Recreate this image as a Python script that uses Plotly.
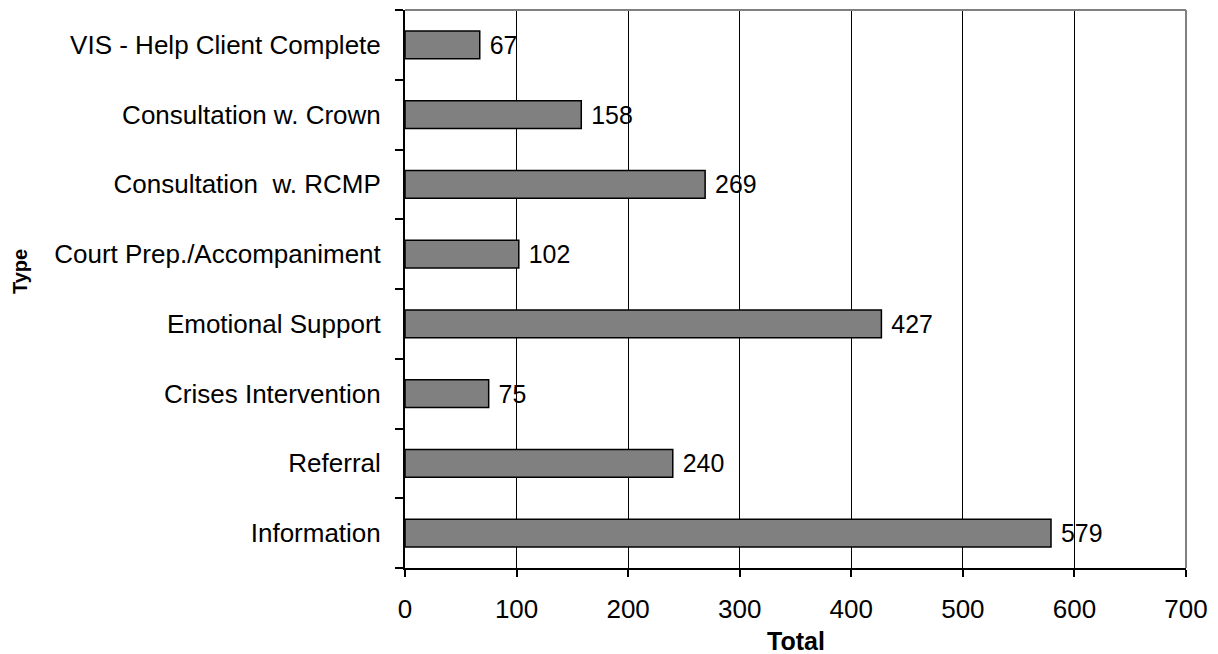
import plotly.graph_objects as go

categories = ["Information", "Referral", "Crises Intervention", "Emotional Support",
              "Court Prep./Accompaniment", "Consultation  w. RCMP",
              "Consultation w. Crown", "VIS - Help Client Complete"]
values = [579, 240, 75, 427, 102, 269, 158, 67]
x_ticks = [0, 100, 200, 300, 400, 500, 600, 700]

FONT = "Liberation Sans, Arial"

fig = go.Figure(go.Bar(
    y=categories, x=values, orientation="h",
    marker=dict(color="#808080", line=dict(color="black", width=1.5)),
    width=0.4,
    text=[str(v) for v in values], texttemplate=" %{text}", textposition="outside",
    textfont=dict(size=25, color="black", family=FONT),
    cliponaxis=False,
))

fig.update_layout(
    width=1218, height=654,
    margin=dict(l=405, r=30, t=10, b=86),
    plot_bgcolor="white", paper_bgcolor="white",
    font=dict(family=FONT, size=26, color="black"),
    showlegend=False,
    xaxis=dict(
        range=[0, 700], tickvals=x_ticks, ticktext=[str(t) for t in x_ticks],
        showgrid=True, gridcolor="black", gridwidth=1,
        showline=True, linecolor="black", linewidth=2,
        ticks="outside", ticklen=7, tickwidth=2, tickcolor="black",
        tickfont=dict(size=26), zeroline=False, ticklabelstandoff=10,
    ),
    yaxis=dict(
        categoryorder="array", categoryarray=categories,
        showline=True, linecolor="black", linewidth=2,
        ticks="outside", ticklen=8, tickwidth=2, tickcolor="black",
        tickson="boundaries", showgrid=False, ticklabelstandoff=17,
        tickfont=dict(size=26),
    ),
    annotations=[
        dict(text="<b>Type</b>", xref="paper", yref="paper",
             x=(19 - 405) / 783, y=(568 - 271) / 558,
             xanchor="center", yanchor="middle", textangle=-90,
             showarrow=False, font=dict(size=20, color="black")),
        dict(text="<b>Total</b>", xref="paper", yref="paper",
             x=0.5, y=(568 - 641) / 558,
             xanchor="center", yanchor="middle",
             showarrow=False, font=dict(size=25, color="black")),
    ],
    shapes=[
        dict(type="line", xref="paper", yref="paper", x0=0, x1=1, y0=1, y1=1,
             line=dict(color="#808080", width=2)),
        dict(type="line", xref="paper", yref="paper", x0=1, x1=1, y0=0, y1=1,
             line=dict(color="#808080", width=2)),
    ],
)

fig.write_html("out.html")
